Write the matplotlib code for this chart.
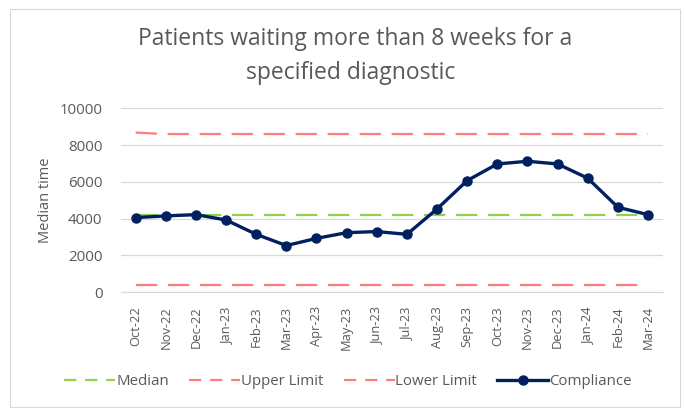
import matplotlib
matplotlib.use("Agg")
import matplotlib.pyplot as plt
from matplotlib.lines import Line2D
from matplotlib.patches import Rectangle

# ----------------------------------------------------------------------------
# DATA
# ----------------------------------------------------------------------------
months = ["Oct-22", "Nov-22", "Dec-22", "Jan-23", "Feb-23", "Mar-23",
          "Apr-23", "May-23", "Jun-23", "Jul-23", "Aug-23", "Sep-23",
          "Oct-23", "Nov-23", "Dec-23", "Jan-24", "Feb-24", "Mar-24"]

compliance = [4060, 4150, 4220, 3930, 3150, 2540, 2930, 3240, 3300, 3150,
              4530, 6070, 6975, 7120, 6975, 6200, 4620, 4220]
median = [4180] * 18
upper_limit = [8680] + [8600] * 17
lower_limit = [400] * 18

# ----------------------------------------------------------------------------
# STYLE
# ----------------------------------------------------------------------------
plt.rcParams['font.family'] = ['Open Sans', 'DejaVu Sans']
GREY_TEXT = '#595959'
GREEN = '#92D050'
RED = '#FF7C80'
NAVY = '#002060'

fig = plt.figure(figsize=(6.85, 4.08), dpi=100)
ax = fig.add_axes([0.176, 0.2836, 0.792, 0.451])

x = list(range(len(months)))
dash = (9.6, 4.8)

ax.plot(x, median, color=GREEN, lw=1.6, dashes=dash, zorder=2)
ax.plot(x, upper_limit, color=RED, lw=1.6, dashes=dash, zorder=2)
ax.plot(x, lower_limit, color=RED, lw=1.6, dashes=dash, zorder=2)
ax.plot(x, compliance, color=NAVY, lw=2.4, marker='o', markersize=6.5, zorder=3)

ax.set_xlim(-0.5, len(months) - 0.5)
ax.set_ylim(0, 10000)
ax.set_yticks(range(0, 10001, 2000))
ax.set_xticks(x)
ax.set_xticklabels(months, rotation=90)
ax.tick_params(axis='both', length=0, colors=GREY_TEXT)
ax.tick_params(axis='x', pad=10, labelsize=9.3)
ax.tick_params(axis='y', pad=13, labelsize=10.8)

ax.grid(axis='y', color='#D9D9D9', lw=0.9)
ax.set_axisbelow(True)
for side in ['top', 'right', 'left']:
    ax.spines[side].set_visible(False)
ax.spines['bottom'].set_color('#D9D9D9')
ax.spines['bottom'].set_linewidth(0.9)

ax.set_ylabel('Median time', color=GREY_TEXT, fontsize=10.5)
ax.yaxis.set_label_coords(-0.125, 0.5)

# title, two centred lines
fig.text(0.519, 0.905, 'Patients waiting more than 8 weeks for a',
         ha='center', va='center', fontsize=16.5, color=GREY_TEXT)
fig.text(0.512, 0.822, 'specified diagnostic',
         ha='center', va='center', fontsize=16.5, color=GREY_TEXT)

# legend handles with shorter dashes, like the Excel legend
small_dash = (5.5, 4.0)
handles = [
    Line2D([], [], color=GREEN, lw=1.6, dashes=small_dash),
    Line2D([], [], color=RED, lw=1.6, dashes=small_dash),
    Line2D([], [], color=RED, lw=1.6, dashes=small_dash),
    Line2D([], [], color=NAVY, lw=2.4, marker='o', markersize=6.5),
]
labels = ['Median', 'Upper Limit', 'Lower Limit', 'Compliance']
leg = fig.legend(handles, labels, loc='center', bbox_to_anchor=(0.508, 0.064),
                 ncol=4, frameon=False, handlelength=3.4, handletextpad=0.05,
                 columnspacing=1.35, fontsize=10.8)
for t in leg.get_texts():
    t.set_color(GREY_TEXT)

# chart border
fig.patches.append(Rectangle((10 / 685, 1 / 408), 670 / 685, 398 / 408,
                             transform=fig.transFigure, fill=False,
                             edgecolor='#D9D9D9', lw=0.8))

fig.savefig('out.png', dpi=100)
